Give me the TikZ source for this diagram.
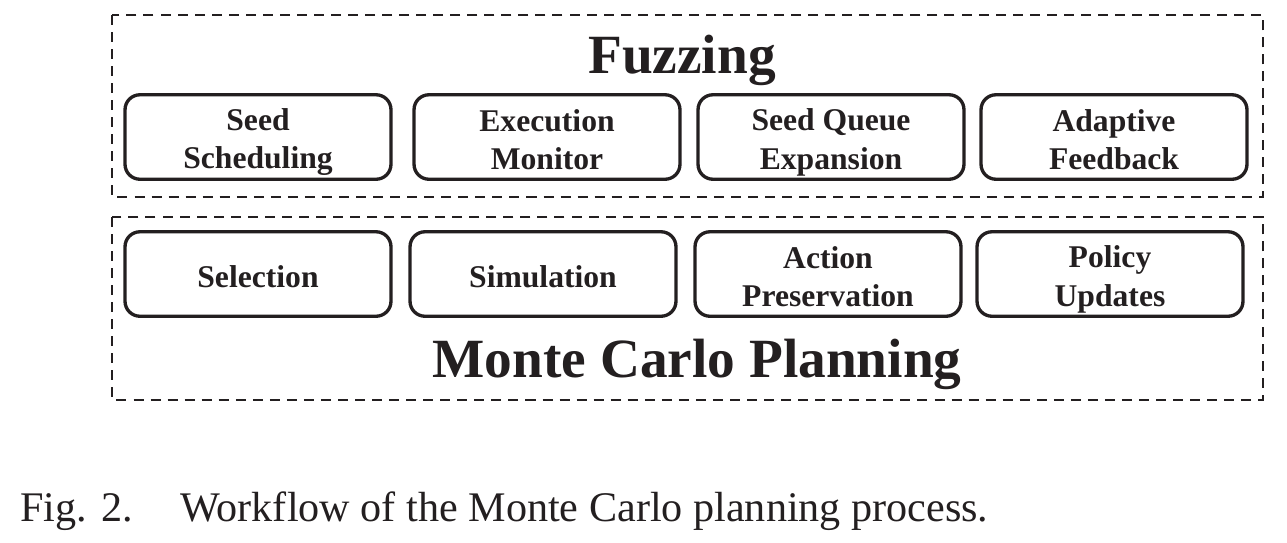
\documentclass[tikz,border=0pt]{standalone}
\usepackage{fontspec}
\setmainfont{Liberation Serif}
\usepackage{tikz}
\definecolor{ink}{HTML}{231F20}
\newcommand{\boxstrut}{\rule[-2.8pt]{0pt}{21pt}}

\begin{document}
\begin{tikzpicture}[x=0.02cm,y=-0.02cm,
    stage/.style={draw=ink,line width=1.9pt,rounded corners=8.5pt,
      minimum width=5.32cm,minimum height=1.69cm,inner sep=0pt,
      align=center,text=ink,font=\fontsize{18}{22.1}\selectfont\bfseries},
    frame/.style={draw=ink,line width=1.5pt,dash pattern=on 5.7pt off 4pt},
    title/.style={anchor=base,inner sep=0pt,text=ink,font=\fontsize{31.5}{36}\selectfont\bfseries},
    caption/.style={anchor=base west,inner sep=0pt,text=ink,font=\fontsize{24}{28}\selectfont}]
          \useasboundingbox (0,0) rectangle (1287,542);
          % fuzzing layer
          \draw[frame] (112,15) rectangle (1263,197);
          \node[title] (fuzzing) at (682,73) {Fuzzing};
          \foreach \n/\x/\txt in {sched/258/{Seed\boxstrut\\Scheduling\boxstrut},
                                  exec/547/{Execution\boxstrut\\Monitor\boxstrut},
                                  queue/831/{Seed Queue\boxstrut\\Expansion\boxstrut},
                                  feed/1114/{Adaptive\boxstrut\\Feedback\boxstrut}}{
            \node[stage] (\n) at (\x,137) {\txt};}
          % planning layer
          \draw[frame] (112,217) rectangle (1263,400);
          \foreach \n/\x/\txt in {select/258/{Selection\boxstrut},
                                  simul/543/{Simulation\boxstrut},
                                  action/828/{Action\boxstrut\\Preservation\boxstrut},
                                  policy/1110/{Policy\boxstrut\\Updates\boxstrut}}{
            \node[stage] (\n) at (\x,274) {\txt};}
          \node[title] (planning) at (697,377) {Monte Carlo Planning};
          % caption
          \node[caption] (fig) at (20,521) {Fig. 2.};
          \node[caption] (cap) at (180,521) {Workflow of the Monte Carlo planning process.};
        \end{tikzpicture}
\end{document}
